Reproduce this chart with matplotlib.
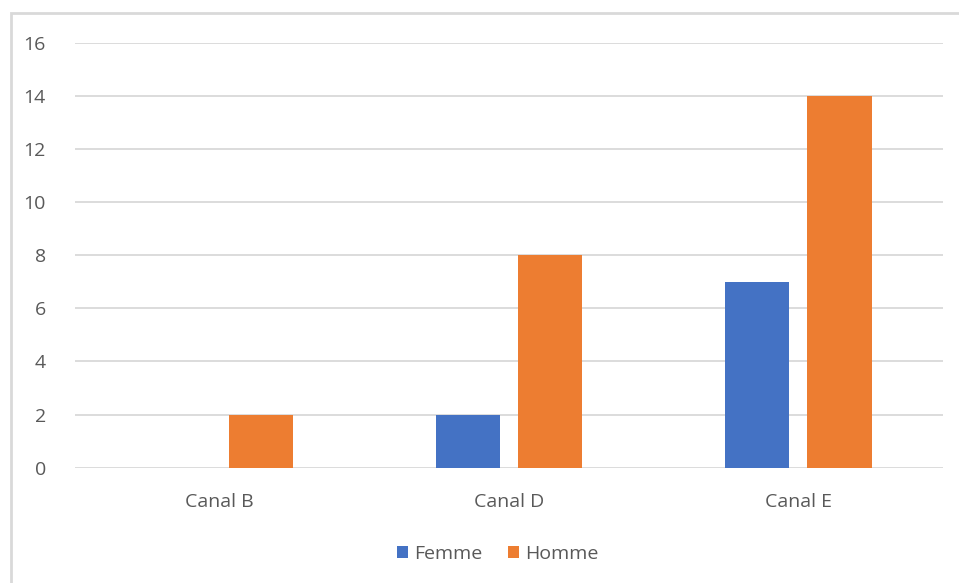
import matplotlib.pyplot as plt
import matplotlib.patches as mpatches
import numpy as np

# Data
categories = ["Canal B", "Canal D", "Canal E"]
femme = [0, 2, 7]
homme = [2, 8, 14]
series_names = ["Femme", "Homme"]
colors = ["#4472C4", "#ED7D31"]

plt.rcParams['font.family'] = ['Open Sans', 'DejaVu Sans']

fig = plt.figure(figsize=(9.59, 5.83), dpi=100)
ax = fig.add_axes([75 / 959, 1 - 467.7 / 583, (943 - 75) / 959, (467.7 - 42.5) / 583])

x = np.arange(len(categories))
width = 0.222
offset = 0.142
ax.bar(x - offset, femme, width, color=colors[0], label=series_names[0], zorder=3)
ax.bar(x + offset, homme, width, color=colors[1], label=series_names[1], zorder=3)

ax.set_xlim(-0.5, len(categories) - 0.5)
ax.set_ylim(0, 16)
ax.set_yticks(range(0, 17, 2))
ax.set_xticks(x)
ax.set_xticklabels(categories)

# Formatting
ax.grid(axis="y", color="#D9D9D9", linewidth=1.3, zorder=0)
for s in ax.spines.values():
    s.set_visible(False)
ax.tick_params(axis="both", length=0, labelsize=14, colors="#595959")
ax.tick_params(axis="y", pad=21)
ax.tick_params(axis="x", pad=18)

ax.legend(loc="upper center", bbox_to_anchor=(0.487, -0.14), ncol=2, frameon=False,
          fontsize=14, labelcolor="#595959", handlelength=0.6, handleheight=0.6,
          handletextpad=0.3, columnspacing=1.3)

# Chart border
fig.patches.append(mpatches.Rectangle((11 / 959, -0.1), 1.1, 1 - 13 / 583 + 0.1,
                                      transform=fig.transFigure, fill=False,
                                      edgecolor="#D9D9D9", linewidth=2))

plt.savefig("out.png", dpi=100)
